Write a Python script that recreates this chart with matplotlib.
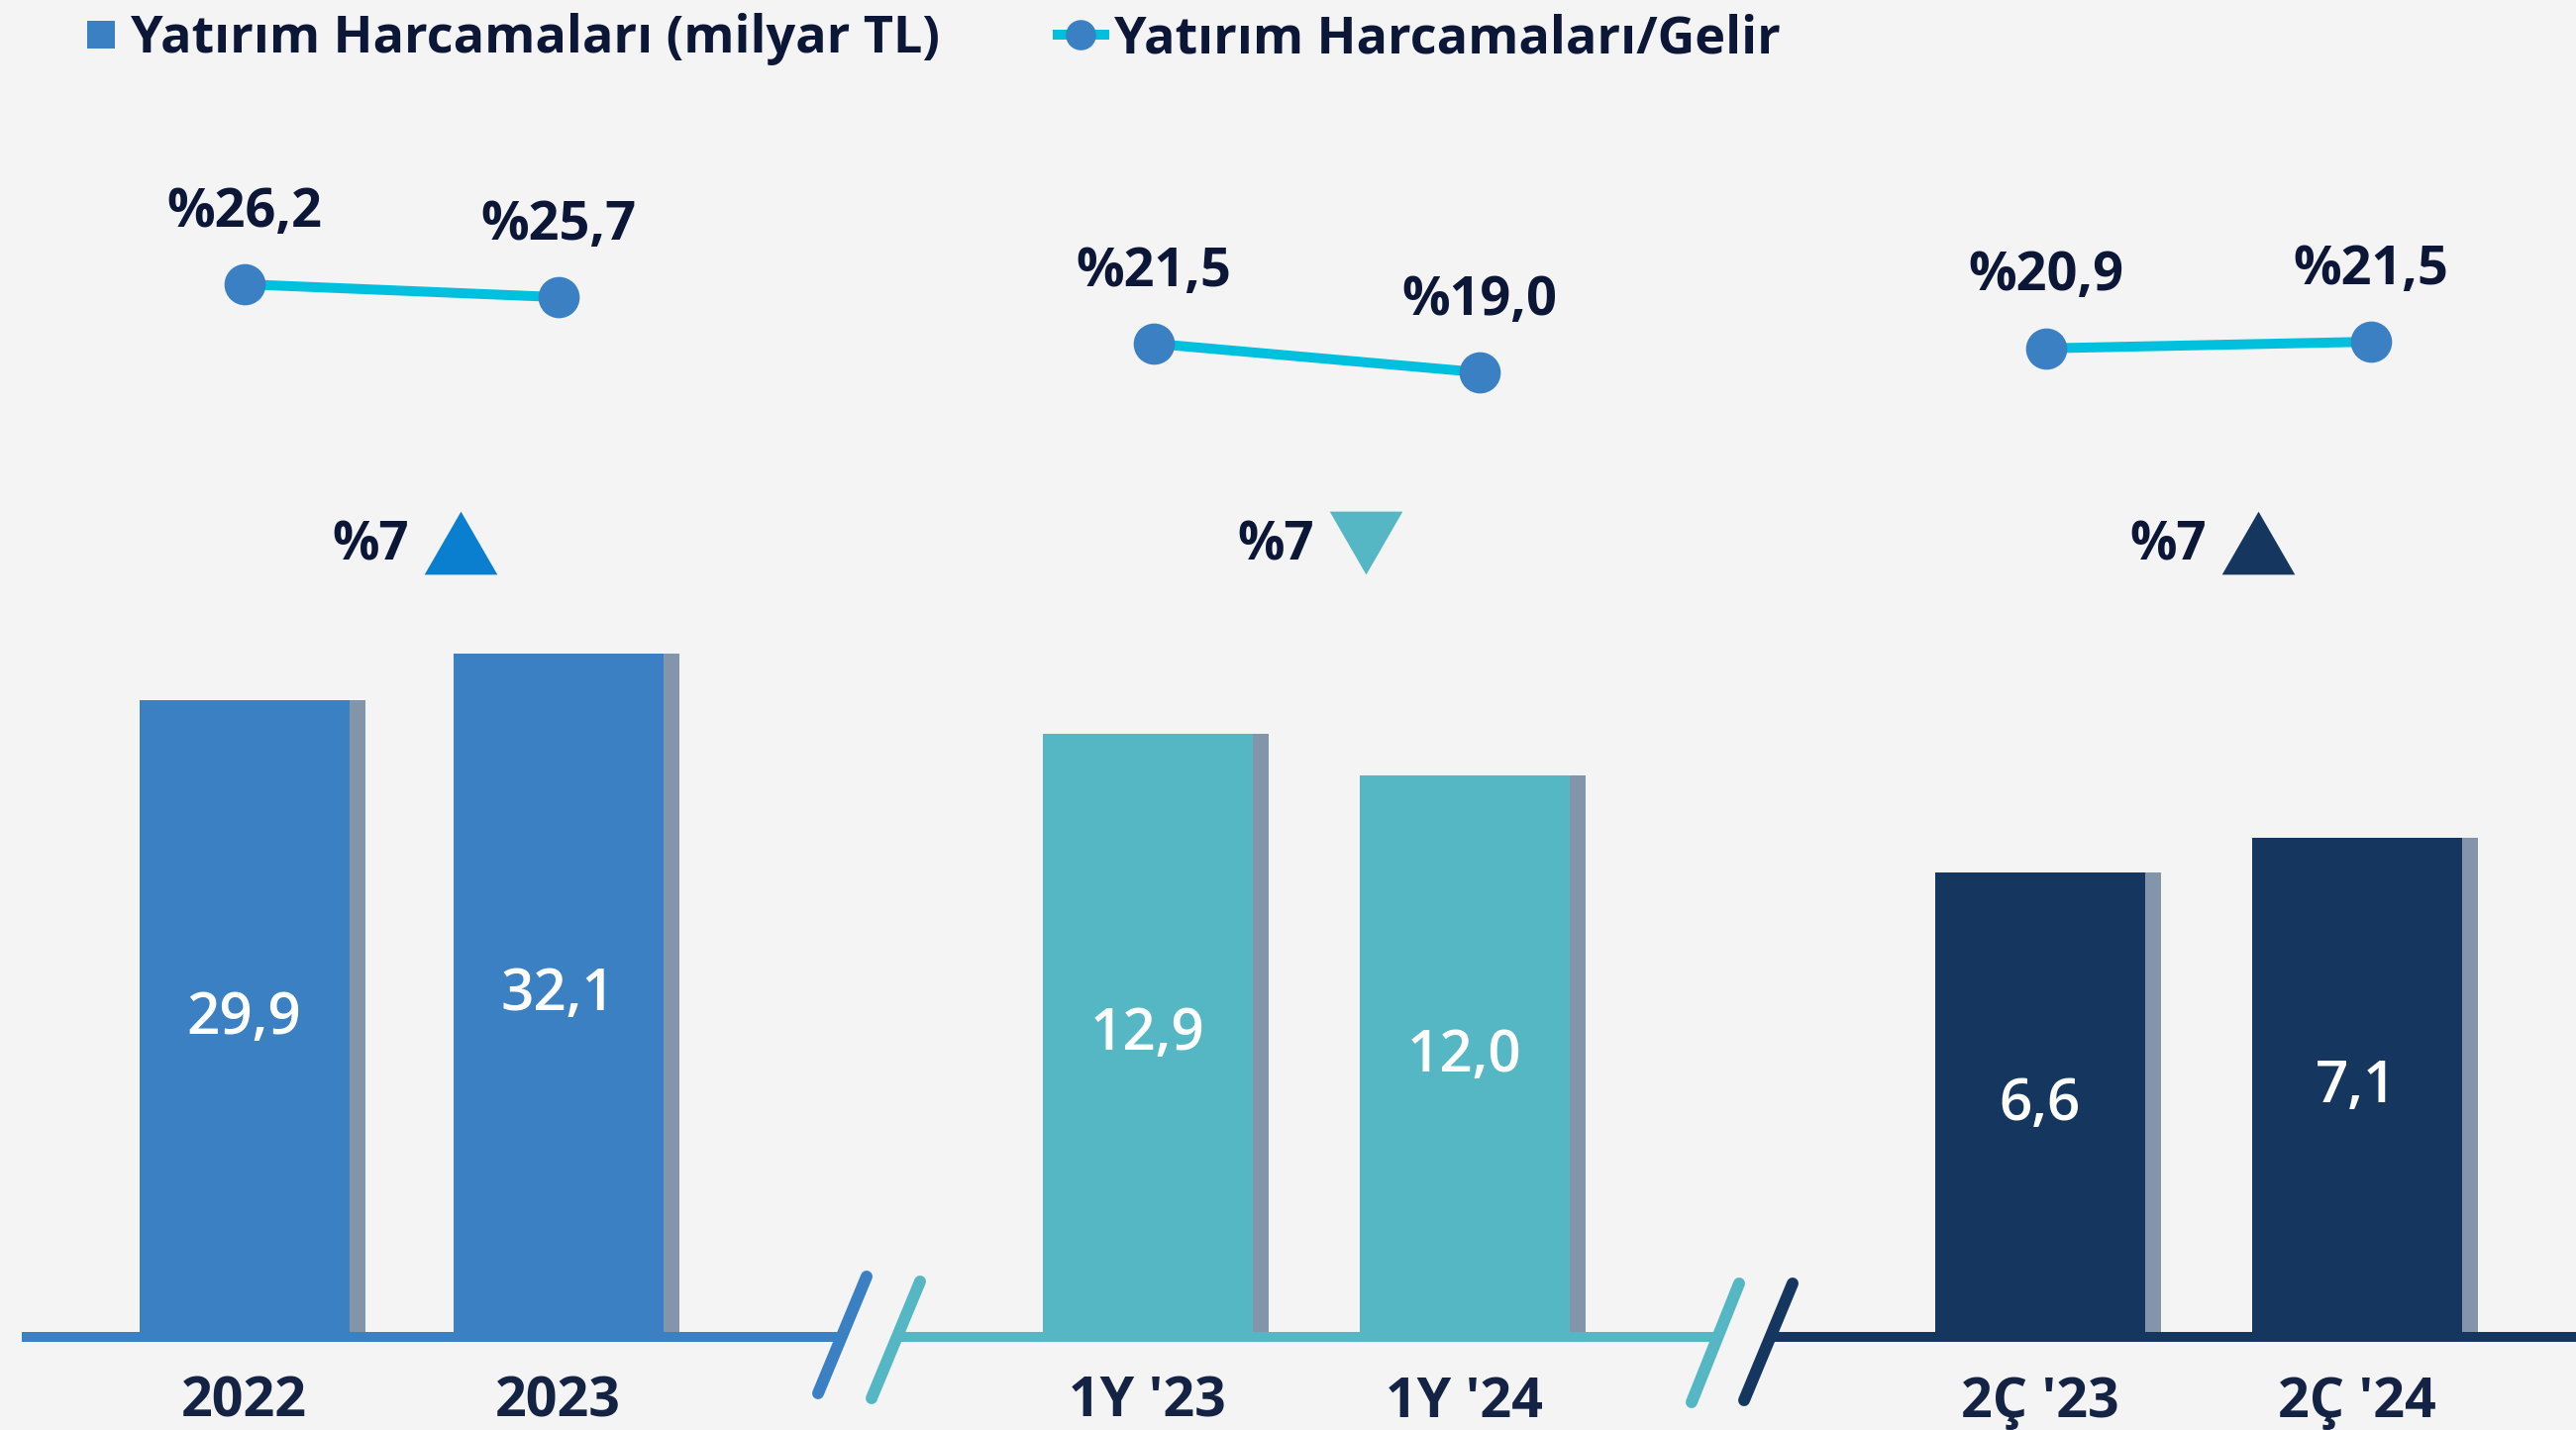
import matplotlib
matplotlib.use("Agg")
import matplotlib.pyplot as plt
from matplotlib.lines import Line2D
from matplotlib.transforms import blended_transform_factory

# ---------------- data ----------------
group_labels = [["2022", "2023"], ["1Y '23", "1Y '24"], ["2Ç '23", "2Ç '24"]]
capex = [[29.9, 32.1], [12.9, 12.0], [6.6, 7.1]]          # Yatırım Harcamaları (milyar TL)
capex_ratio = [[26.2, 25.7], [21.5, 19.0], [20.9, 21.5]]  # Yatırım Harcamaları/Gelir (%)
change_text = ["%7", "%7", "%7"]
change_dir = ["up", "down", "up"]

legend_bar = "Yatırım Harcamaları (milyar TL)"
legend_line = "Yatırım Harcamaları/Gelir"

# ---------------- style / layout ----------------
W, H = 2601, 1444
BG = "#f4f4f4"
TXT = "#0c1737"
bar_colors = ["#3a80c3", "#56b7c4", "#15365f"]
tri_colors = ["#0a7fd0", "#56b7c4", "#15365f"]
shadow_color = "#8395ab"
line_color = "#00c0de"
marker_color = "#3a80c3"
FONT = ["Open Sans", "DejaVu Sans"]

axes_px = [(27, 847), (912, 1730), (1793, 2601)]   # horizontal extent of each panel
first_center_px = [246.5, 1158.5, 2059.5]
spacing_px = [317, 320, 320]
baseline_px = 1350
bar_ymax = [62.79, 28.59, 19.01]                  # bar scale of each panel
line_ylim = [(-14.685, 37.24), (-64.97, 51.41), (-68.23, 52.31)]
line_shift_px = [(0, 0), (6, 15), (6, 14)]
bar_w_px = 212
shadow_px = 16

plt.rcParams["font.family"] = FONT

fig = plt.figure(figsize=(W / 100, H / 100), dpi=100)
fig.patch.set_facecolor(BG)


def fx(px):
    return px / W


def fy(py):
    return 1 - py / H


for g in range(3):
    x0, x1 = axes_px[g]
    sp = spacing_px[g]
    ax = fig.add_axes([fx(x0), fy(baseline_px), (x1 - x0) / W, baseline_px / H])
    ax.set_facecolor("none")
    xmin = -(first_center_px[g] - x0) / sp
    xmax = xmin + (x1 - x0) / sp
    ax.set_xlim(xmin, xmax)
    ax.set_ylim(0, bar_ymax[g])
    xs = [0, 1]
    bw = bar_w_px / sp
    sh = shadow_px / sp
    ax.bar([x + sh for x in xs], capex[g], width=bw, color=shadow_color, zorder=1)
    ax.bar(xs, capex[g], width=bw, color=bar_colors[g], zorder=2)
    for x, v in zip(xs, capex[g]):
        ax.text(x, v / 2, f"{v:.1f}".replace(".", ","), ha="center", va="center",
                color="white", fontsize=42, fontweight="semibold", zorder=3)
    for s in ["top", "left", "right"]:
        ax.spines[s].set_visible(False)
    ax.spines["bottom"].set_color(bar_colors[g])
    ax.spines["bottom"].set_linewidth(7.2)
    ax.spines["bottom"].set_zorder(4)
    ax.set_yticks([])
    ax.set_xticks(xs)
    ax.set_xticklabels(group_labels[g], fontsize=40, fontweight="bold", color="#142243")
    ax.tick_params(axis="x", length=0, pad=28)

    # change indicator
    mid = 0.5
    bt = blended_transform_factory(ax.transData, ax.transAxes)
    ax.text(mid + 8 / sp, 1 - 566 / baseline_px, change_text[g], transform=bt,
            ha="right", va="baseline", fontsize=38, fontweight="bold", color=TXT)
    if change_dir[g] == "up":
        verts = [(-0.5, -0.433), (0.5, -0.433), (0, 0.433)]
    else:
        verts = [(-0.5, 0.433), (0.5, 0.433), (0, -0.433)]
    ax.plot([mid + 60 / sp], [1 - 548 / baseline_px], transform=bt, marker=verts,
            markersize=53, color=tri_colors[g], markeredgewidth=0, linestyle="none")

    # ratio line
    ax2 = ax.twinx()
    ax2.set_ylim(*line_ylim[g])
    ax2.set_axis_off()
    lx = [xs[i] + line_shift_px[g][i] / sp for i in range(2)]
    ax2.plot(lx, capex_ratio[g], color=line_color, lw=7.2, zorder=2, solid_capstyle="butt")
    ax2.plot(lx, capex_ratio[g], linestyle="none", marker="o", markersize=30,
             color=marker_color, markeredgewidth=0, zorder=3)
    for x, v in zip(lx, capex_ratio[g]):
        ax2.annotate("%" + f"{v:.1f}".replace(".", ","), (x, v), xytext=(0, 42),
                     textcoords="offset points", ha="center", va="baseline",
                     fontsize=39, fontweight="bold", color=TXT)

# axis-break slashes (decoration)
slashes = [((826, 1407), (875, 1289), bar_colors[0]),
           ((880, 1412), (929, 1294), bar_colors[1]),
           ((1708, 1416), (1756, 1296), bar_colors[1]),
           ((1761, 1414), (1810, 1296), bar_colors[2])]
for (ax_, ay_), (bx_, by_), c in slashes:
    fig.add_artist(Line2D([fx(ax_), fx(bx_)], [fy(ay_), fy(by_)], transform=fig.transFigure,
                          color=c, lw=8.6, solid_capstyle="round", zorder=5))

# legend
h1 = Line2D([], [], linestyle="none", marker="s", markersize=20, color=bar_colors[0],
            markeredgewidth=0)
h2 = Line2D([], [], color=line_color, lw=7.2, marker="o", markersize=22,
            markerfacecolor=marker_color, markeredgewidth=0)
leg1 = fig.legend([h1], [legend_bar], loc="center left", bbox_to_anchor=(fx(88), fy(40)),
                  frameon=False, borderpad=0, borderaxespad=0, handlelength=0.55,
                  handletextpad=0.3, prop={"family": FONT, "weight": "bold", "size": 37.5})
leg2 = fig.legend([h2], [legend_line], loc="center left", bbox_to_anchor=(fx(1068), fy(40)),
                  frameon=False, borderpad=0, borderaxespad=0, handlelength=0.9,
                  handletextpad=0.2, prop={"family": FONT, "weight": "bold", "size": 37.5})
for leg in (leg1, leg2):
    for t in leg.get_texts():
        t.set_color(TXT)

fig.savefig("out.png", dpi=100, facecolor=BG)
